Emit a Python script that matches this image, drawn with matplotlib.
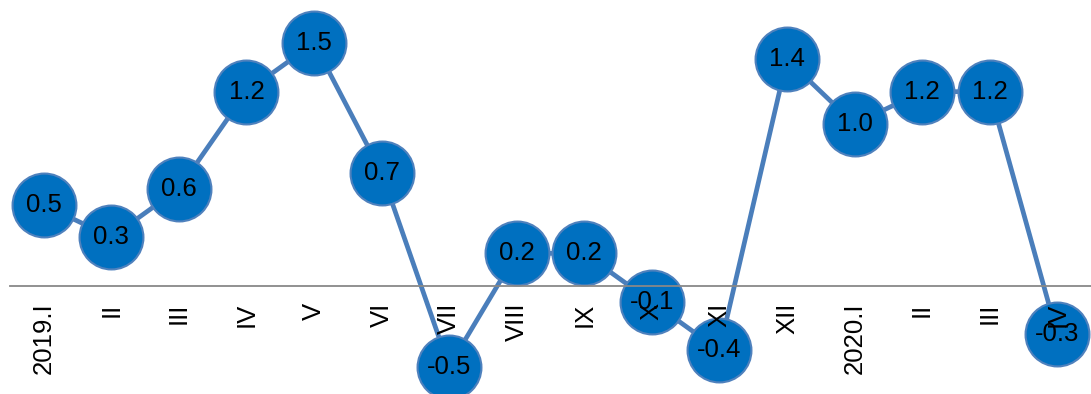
import numpy as np
import matplotlib
matplotlib.use("Agg")
import matplotlib.pyplot as plt

plt.rcParams['font.family'] = ['Liberation Sans', 'DejaVu Sans']

labels = ['2019.I', 'II', 'III', 'IV', 'V', 'VI', 'VII', 'VIII', 'IX', 'X',
          'XI', 'XII', '2020.I', 'II', 'III', 'IV']
values = [0.5, 0.3, 0.6, 1.2, 1.5, 0.7, -0.5, 0.2, 0.2, -0.1,
          -0.4, 1.4, 1.0, 1.2, 1.2, -0.3]

fig = plt.figure(figsize=(10.91, 3.94), dpi=100)
ax = fig.add_axes([10 / 1091, 0, 1 - 10 / 1091, 1])
ax.set_xlim(-0.5, 15.5)
ax.set_ylim(-0.6697, 1.7669)

x = np.arange(len(values))
ax.plot(x, values, color='#4A7EBB', lw=3.4, zorder=2, clip_on=False,
        marker='o', ms=46, mfc='#0070C0', mec='#4F81BD', mew=1.5)

for xi, v in zip(x, values):
    ax.text(xi, v, f'{v:.1f}', ha='center', va='center', fontsize=18.5,
            color='black', zorder=4, clip_on=False)

for s in ['top', 'right', 'left']:
    ax.spines[s].set_visible(False)
ax.spines['bottom'].set_position(('data', 0))
ax.spines['bottom'].set_color('#888888')
ax.spines['bottom'].set_linewidth(1.3)
ax.set_yticks([])
ax.set_xticks(x)
ax.set_xticklabels(labels, rotation=90, fontsize=18.5, va='top')
ax.tick_params(axis='x', length=0, pad=12)
ax.xaxis.set_zorder(3)
ax.patch.set_visible(False)

fig.savefig('out.png', dpi=100)
